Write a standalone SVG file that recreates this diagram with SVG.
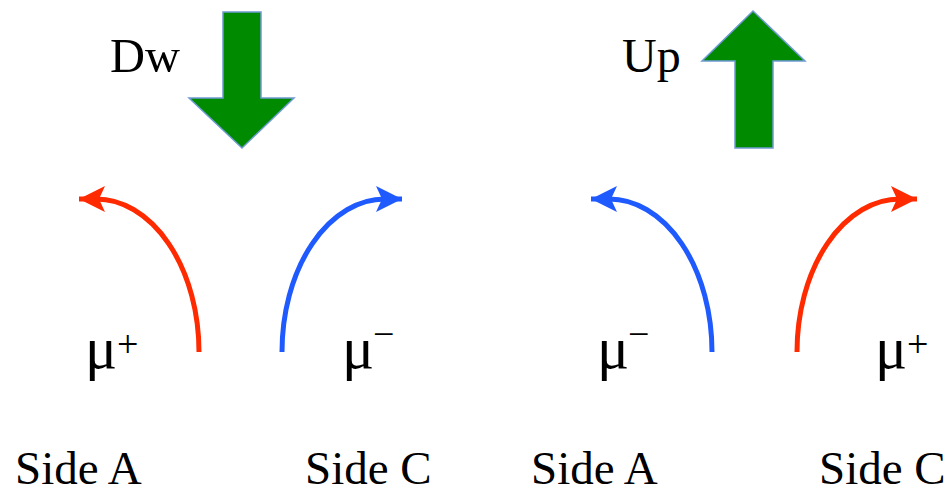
<svg xmlns="http://www.w3.org/2000/svg" width="952" height="491" viewBox="0 0 952 491" font-family="'Liberation Serif', 'Times New Roman', serif">
<style>
  text { font-family: "Liberation Serif", "Times New Roman", serif; fill: #000; }
  .lbl { font-size: 48px; }
  .side { font-size: 47px; }
  .mu { font-size: 60px; }
  .sup { font-size: 38px; }
  .big { fill: #008A00; stroke: #6F9BD3; stroke-width: 1.5; stroke-linejoin: miter; }
  .red { fill: none; stroke: #FF2A00; stroke-width: 5; }
  .blue { fill: none; stroke: #1F5AFF; stroke-width: 5; }
</style>
<defs>
  <marker id="ahRed" markerUnits="userSpaceOnUse" markerWidth="32" markerHeight="32" viewBox="0 -16 32 32" refX="28" refY="0" orient="auto">
    <path d="M28,0 L2,-13 L8,0 L2,13 Z" fill="#FF2A00"/>
  </marker>
  <marker id="ahBlue" markerUnits="userSpaceOnUse" markerWidth="32" markerHeight="32" viewBox="0 -16 32 32" refX="28" refY="0" orient="auto">
    <path d="M28,0 L2,-13 L8,0 L2,13 Z" fill="#1F5AFF"/>
  </marker>
</defs>

<g id="dw">
  <text class="lbl" x="110" y="72" textLength="70" lengthAdjust="spacingAndGlyphs">Dw</text>
  <polygon class="big" points="223,12 261,12 261,98 294,98 242,148 189,98 223,98"/>
</g>

<g id="up">
  <text class="lbl" x="622" y="72">Up</text>
  <polygon class="big" points="753,11 805,61 773,61 773,148 735,148 735,61 702,61"/>
</g>

<g id="connectors">
  <path class="red" d="M199,352 A103,153 0 0 0 96,199 L79,199" marker-end="url(#ahRed)"/>
  <path class="blue" d="M282,352 A103,153 0 0 1 385,199 L402,199" marker-end="url(#ahBlue)"/>
  <path class="blue" d="M712,352 A103,153 0 0 0 609,199 L591,199" marker-end="url(#ahBlue)"/>
  <path class="red" d="M797,352 A103,153 0 0 1 900,199 L917,199" marker-end="url(#ahRed)"/>
</g>

<g id="mu-plus-left">
  <text class="mu" x="85" y="368">μ</text>
  <text class="sup" x="117" y="357">+</text>
</g>
<g id="mu-minus-left">
  <text class="mu" x="342" y="368">μ</text>
  <text class="sup" x="373" y="347">−</text>
</g>
<g id="mu-minus-right">
  <text class="mu" x="597" y="368">μ</text>
  <text class="sup" x="628" y="347">−</text>
</g>
<g id="mu-plus-right">
  <text class="mu" x="875" y="368">μ</text>
  <text class="sup" x="907" y="357">+</text>
</g>

<g id="side-a-left"><text class="side" x="15" y="484">Side A</text></g>
<g id="side-c-left"><text class="side" x="305" y="484">Side C</text></g>
<g id="side-a-right"><text class="side" x="531" y="484">Side A</text></g>
<g id="side-c-right"><text class="side" x="819" y="484">Side C</text></g>
</svg>
